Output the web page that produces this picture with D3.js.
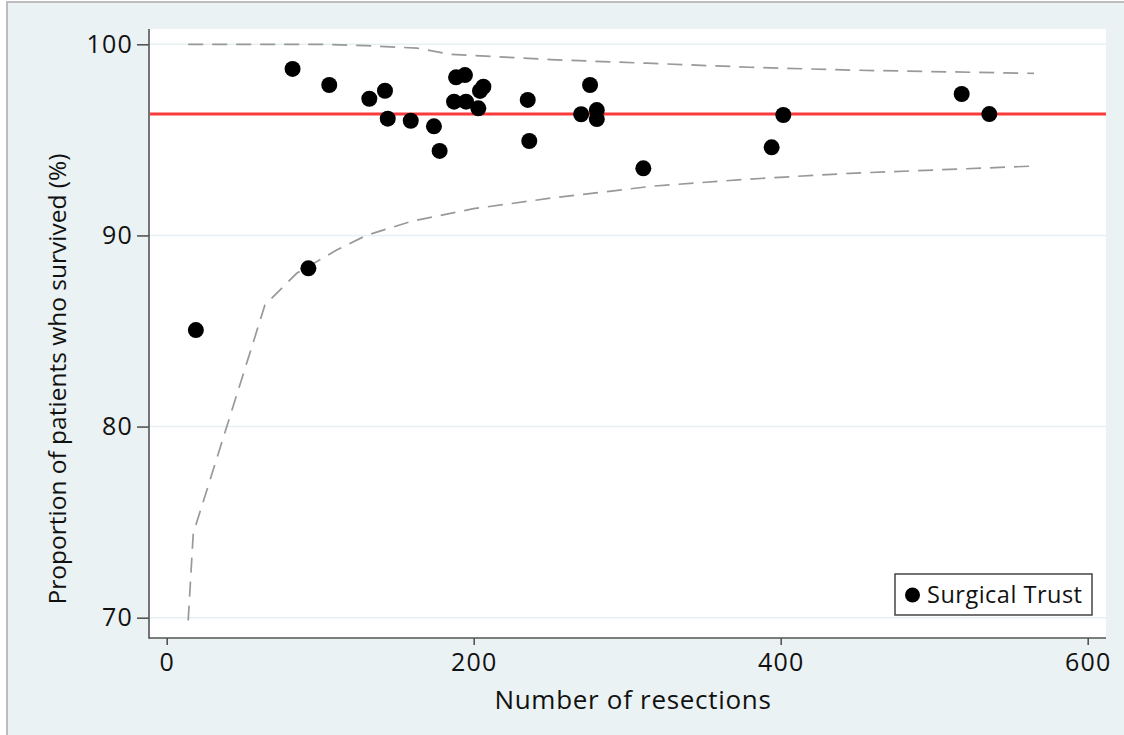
<!DOCTYPE html>
<html lang="en">
<head>
<meta charset="UTF-8">
<title>Funnel plot</title>
<script src="https://cdnjs.cloudflare.com/ajax/libs/d3/7.8.5/d3.min.js"></script>
<style>
    body {
        margin: 0;
        background: white;
        font-family: "Open Sans", sans-serif;
    }
    .tick text {
        font-family: "Open Sans", sans-serif;
        fill: #111;
    }
</style>
</head>
<body>
<script>
    // trusts: number of resections and survival (%)
    var resections = [19, 82, 92.3, 105.9, 132, 142.2, 144, 159, 174.1, 177.8,
        188.5, 194.3, 187.2, 195, 203, 204.1, 206.3, 235.2, 236.2, 275.8,
        270, 280.2, 280.2, 310.5, 394.1, 401.7, 517.9, 535.9];
    var survival = [85.05, 98.71, 88.28, 97.87, 97.15, 97.57, 96.11, 96.0, 95.71, 94.42,
        98.27, 98.39, 97.0, 97.0, 96.65, 97.56, 97.78, 97.09, 94.94, 97.87,
        96.34, 96.56, 96.09, 93.51, 94.61, 96.3, 97.4, 96.35];

    // overall mean survival
    var meanSurvival = 96.35;

    // control limits
    var upperN = [14, 100, 130, 163, 185, 250, 313, 380, 445, 565];
    var upperP = [100, 100, 99.93, 99.8, 99.48, 99.2, 99.01, 98.8, 98.65, 98.48];
    var lowerN = [14, 17.3, 64, 84.7, 110.7, 130, 160, 200, 250, 317, 380, 445, 565];
    var lowerP = [69.85, 74.41, 86.36, 88.02, 89.24, 90.0, 90.75, 91.4, 91.95, 92.58, 92.95, 93.25, 93.63];

    var xTicks = [0, 200, 400, 600];
    var yTicks = [70, 80, 90, 100];

    var W = 1124, H = 735;
    var plot = { left: 150, right: 1106, top: 29, bottom: 638 };

    var x = d3.scaleLinear().domain([0, 600]).range([166.7, 1087.7]);
    var y = d3.scaleLinear().domain([70, 100]).range([617.7, 44.3]);

    var svg = d3.select("body").append("svg").
    attr("width", W).
    attr("height", H);

    // graph region
    svg.append("rect").
    attr("x", 7).attr("y", 2).
    attr("width", W + 20).attr("height", H + 20).
    style("fill", "#eaf2f3").
    style("stroke", "#bdbdbd").
    style("stroke-width", 2);

    // plot region
    svg.append("rect").
    attr("x", plot.left).attr("y", plot.top).
    attr("width", plot.right - plot.left).
    attr("height", plot.bottom - plot.top).
    style("fill", "white");

    // grid
    svg.selectAll(".grid").
    data(yTicks).
    enter().append("line").
    attr("class", "grid").
    attr("x1", plot.left).attr("x2", plot.right).
    attr("y1", function(d) { return y(d); }).
    attr("y2", function(d) { return y(d); }).
    style("stroke", "#e6eff1").
    style("stroke-width", 1.5);

    // funnel limits
    var line = d3.line().
    x(function(d) { return x(d[0]); }).
    y(function(d) { return y(d[1]); });

    [d3.zip(upperN, upperP), d3.zip(lowerN, lowerP)].forEach(function(pts) {
        svg.append("path").
        attr("d", line(pts)).
        style("fill", "none").
        style("stroke", "#999").
        style("stroke-width", 1.7).
        style("stroke-dasharray", "15,9");
    });

    // mean line
    svg.append("line").
    attr("x1", plot.left).attr("x2", plot.right).
    attr("y1", y(meanSurvival)).attr("y2", y(meanSurvival)).
    style("stroke", "#f93b3b").
    style("stroke-width", 3);

    // points
    svg.selectAll(".dot").
    data(d3.zip(resections, survival)).
    enter().append("circle").
    attr("class", "dot").
    attr("r", 8).
    attr("cx", function(d) { return x(d[0]); }).
    attr("cy", function(d) { return y(d[1]); }).
    style("fill", "black");

    // axes
    var xAxis = d3.axisBottom(x).tickValues(xTicks).tickSize(7).tickPadding(8).tickSizeOuter(0);
    var yAxis = d3.axisLeft(y).tickValues(yTicks).tickSize(12).tickPadding(4).tickSizeOuter(0);

    var gx = svg.append("g").
    attr("transform", "translate(0," + plot.bottom + ")").
    call(xAxis);
    gx.select(".domain").remove();
    gx.selectAll(".tick text").style("font-size", "25px").style("letter-spacing", "1.2px");

    var gy = svg.append("g").
    attr("transform", "translate(" + (plot.left - 1) + ",0)").
    call(yAxis);
    gy.select(".domain").remove();
    gy.selectAll(".tick text").style("font-size", "25px").style("letter-spacing", "1.2px");

    svg.selectAll(".tick line").style("stroke", "#555").style("stroke-width", 1.6);

    // axis lines
    svg.append("line").
    attr("x1", plot.left - 1).attr("x2", plot.left - 1).
    attr("y1", plot.top).attr("y2", plot.bottom + 0.8).
    style("stroke", "#555").style("stroke-width", 1.6);
    svg.append("line").
    attr("x1", plot.left - 1).attr("x2", plot.right).
    attr("y1", plot.bottom).attr("y2", plot.bottom).
    style("stroke", "#555").style("stroke-width", 1.6);

    // titles
    svg.append("text").
    attr("x", 633).
    attr("y", 709).
    attr("text-anchor", "middle").
    style("font-size", "26px").
    style("letter-spacing", "0.7px").
    style("fill", "#111").
    text("Number of resections");

    svg.append("text").
    attr("transform", "translate(66,379) rotate(-90)").
    attr("text-anchor", "middle").
    style("font-size", "24.5px").
    style("fill", "#111").
    text("Proportion of patients who survived (%)");

    // legend
    var legend = svg.append("g").attr("class", "legend");
    legend.append("rect").
    attr("x", 895).attr("y", 574).
    attr("width", 197).attr("height", 41).
    style("fill", "white").
    style("stroke", "#444").
    style("stroke-width", 1.5);
    legend.append("circle").
    attr("cx", 912.5).attr("cy", 595).attr("r", 7.5).
    style("fill", "black");
    legend.append("text").
    attr("x", 927).attr("y", 603).
    style("font-size", "23.5px").
    style("letter-spacing", "0.5px").
    style("fill", "#111").
    text("Surgical Trust");
</script>
</body>
</html>
